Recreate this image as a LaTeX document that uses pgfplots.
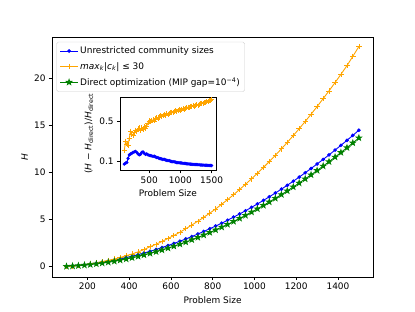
\documentclass[border=0pt]{standalone}
\usepackage{fontspec}
\setmainfont{DejaVu Sans}
\usepackage{pgfplots}
\usepackage{pgfplotstable}
\pgfplotsset{compat=1.18}
\definecolor{mplorange}{HTML}{FFA500}
\definecolor{mplgreen}{HTML}{008000}
\definecolor{legedge}{HTML}{CCCCCC}

\pgfdeclareplotmark{fstar}{%
  \pgfpathmoveto{\pgfpointpolar{90}{\pgfplotmarksize}}%
  \pgfpathlineto{\pgfpointpolar{126}{0.4\pgfplotmarksize}}%
  \pgfpathlineto{\pgfpointpolar{162}{\pgfplotmarksize}}%
  \pgfpathlineto{\pgfpointpolar{198}{0.4\pgfplotmarksize}}%
  \pgfpathlineto{\pgfpointpolar{234}{\pgfplotmarksize}}%
  \pgfpathlineto{\pgfpointpolar{270}{0.4\pgfplotmarksize}}%
  \pgfpathlineto{\pgfpointpolar{306}{\pgfplotmarksize}}%
  \pgfpathlineto{\pgfpointpolar{342}{0.4\pgfplotmarksize}}%
  \pgfpathlineto{\pgfpointpolar{18}{\pgfplotmarksize}}%
  \pgfpathlineto{\pgfpointpolar{54}{0.4\pgfplotmarksize}}%
  \pgfpathclose\pgfusepathqfillstroke}

\pgfplotstableread{
x g b o
100 0.029 0.032 0.036
129 0.061 0.068 0.080
157 0.102 0.118 0.131
186 0.155 0.182 0.211
214 0.216 0.257 0.303
243 0.290 0.348 0.400
271 0.371 0.445 0.523
300 0.465 0.554 0.661
329 0.570 0.667 0.804
357 0.682 0.791 0.968
386 0.807 0.961 1.154
414 0.939 1.108 1.342
443 1.085 1.270 1.563
471 1.237 1.441 1.806
500 1.404 1.624 2.106
529 1.582 1.819 2.373
557 1.764 2.019 2.663
586 1.962 2.237 2.983
614 2.164 2.456 3.300
643 2.384 2.693 3.647
671 2.605 2.931 4.012
700 2.846 3.187 4.411
729 3.096 3.459 4.815
757 3.349 3.727 5.224
786 3.620 4.018 5.666
814 3.892 4.301 6.111
843 4.185 4.603 6.612
871 4.477 4.916 7.096
900 4.790 5.245 7.616
929 5.114 5.584 8.182
957 5.436 5.920 8.725
986 5.781 6.284 9.307
1014 6.124 6.644 9.890
1043 6.489 7.021 10.512
1071 6.852 7.400 11.134
1100 7.238 7.802 11.797
1129 7.634 8.214 12.482
1157 8.027 8.621 13.164
1186 8.445 9.053 13.891
1214 8.858 9.487 14.615
1243 9.296 9.947 15.385
1271 9.729 10.400 16.150
1300 10.188 10.881 16.963
1329 10.657 11.361 17.806
1357 11.121 11.844 18.627
1386 11.611 12.354 19.507
1414 12.095 12.857 20.379
1443 12.606 13.387 21.304
1471 13.109 13.909 22.286
1500 13.641 14.460 23.326
}\maintable

\pgfplotstableread{
x rb ro
100 0.075 0.21
120 0.085 0.30
140 0.090 0.27
160 0.130 0.26
180 0.165 0.33
200 0.175 0.40
220 0.180 0.37
240 0.190 0.36
260 0.195 0.39
280 0.200 0.41
300 0.190 0.40
320 0.175 0.42
340 0.165 0.43
360 0.170 0.41
380 0.190 0.43
400 0.195 0.42
420 0.180 0.44
440 0.170 0.43
460 0.175 0.45
480 0.165 0.48
500 0.160 0.50
520 0.158 0.49
540 0.155 0.50
560 0.150 0.51
580 0.152 0.50
600 0.145 0.52
620 0.140 0.53
640 0.138 0.52
660 0.130 0.54
680 0.128 0.55
700 0.125 0.545
720 0.120 0.55
740 0.122 0.56
760 0.115 0.555
780 0.112 0.57
800 0.110 0.565
820 0.108 0.57
840 0.103 0.58
860 0.100 0.585
880 0.098 0.58
900 0.097 0.59
920 0.094 0.60
940 0.090 0.595
960 0.089 0.60
980 0.088 0.61
1000 0.086 0.605
1020 0.085 0.615
1040 0.083 0.62
1060 0.081 0.615
1080 0.080 0.625
1100 0.078 0.63
1120 0.077 0.635
1140 0.076 0.63
1160 0.074 0.64
1180 0.073 0.645
1200 0.072 0.65
1220 0.071 0.645
1240 0.070 0.655
1260 0.070 0.66
1280 0.069 0.655
1300 0.068 0.665
1320 0.066 0.67
1340 0.066 0.675
1360 0.065 0.67
1380 0.064 0.68
1400 0.063 0.685
1420 0.063 0.69
1440 0.062 0.69
1460 0.061 0.70
1480 0.061 0.705
1500 0.060 0.71
}\insettable

\pgfplotsset{
  mplstyle/.style={
    scale only axis,
    axis line style={black, line width=0.8pt},
    tick style={black, line width=0.8pt},
    tick align=outside,
    major tick length=3.5pt,
    tick pos=left,
    /pgf/number format/assume math mode=true,
    /pgf/number format/1000 sep={},
    tick label style={font=\fontsize{10}{12}\selectfont},
    label style={font=\fontsize{10}{12}\selectfont},
    scaled ticks=false,
  }
}

\begin{document}
\begin{tikzpicture}
\path[use as bounding box] (0,0) rectangle (6.4in,4.8in);
\begin{axis}[mplstyle,
  at={(0.8in,0.528in)}, anchor=south west,
  width=4.96in, height=3.696in,
  xmin=30, xmax=1570, ymin=-1.1, ymax=24.3,
  xtick={200,400,...,1400}, ytick={0,5,...,20},
  xlabel={Problem Size}, ylabel={\textit{H}},
  legend cell align=left,
  legend style={at={(0,1)}, anchor=north west, xshift=5pt, yshift=-5pt,
    draw=legedge, rounded corners=2pt, fill=white, fill opacity=0.8, text opacity=1,
    font=\fontsize{10}{12}\selectfont, row sep=4pt, inner sep=3.5pt},
  legend image code/.code={
    \draw[mark repeat=2,mark phase=2] plot coordinates {(0cm,0cm) (0.35cm,0cm) (0.7cm,0cm)};},
]
\addplot[blue, line width=1pt, mark=*, mark size=1.5pt] table[x=x, y=b] {\maintable};
\addlegendentry{Unrestricted community sizes}
\addplot[mplorange, line width=1pt, mark=+, mark size=3pt, mark options={line width=0.8pt}] table[x=x, y=o] {\maintable};
\addlegendentry{\textit{max}\textsubscript{\textit{k}}|\textit{c}\textsubscript{\textit{k}}| ≤ 30}
\addplot[mplgreen, line width=1pt, mark=fstar, mark size=3pt] table[x=x, y=g] {\maintable};
\addlegendentry{Direct optimization (MIP gap=10\textsuperscript{−4})}
\end{axis}
\begin{axis}[mplstyle,
  at={(1.85in,2.176in)}, anchor=south west,
  width=1.48in, height=1.128in,
  axis background/.style={fill=white},
  xmin=30, xmax=1570, ymin=0.015, ymax=0.735,
  xtick={500,1000,1500}, ytick={0.1,0.5},
  yticklabels={0.1,0.5},
  xlabel={Problem Size},
  ylabel={(\textit{H} − \textit{H}\textsubscript{direct})/\textit{H}\textsubscript{direct}},
]
\addplot[blue, line width=1pt, mark=*, mark size=1.3pt] table[x=x, y=rb] {\insettable};
\addplot[mplorange, line width=1pt, mark=+, mark size=2.8pt, mark options={line width=0.7pt}] table[x=x, y=ro] {\insettable};
\end{axis}
\end{tikzpicture}
\end{document}
